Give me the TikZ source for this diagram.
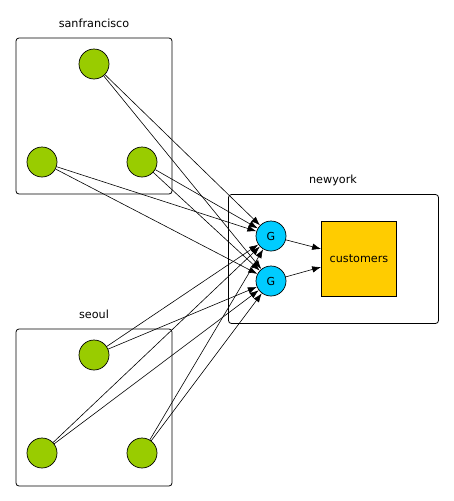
\documentclass[tikz,border=0pt]{standalone}
\usepackage{fontspec}
\setmainfont{DejaVu Sans}
\usetikzlibrary{arrows.meta}
\definecolor{grn}{HTML}{99CC00}
\definecolor{cyn}{HTML}{00CCFF}
\definecolor{ylw}{HTML}{FFCC00}
\begin{document}
\begin{tikzpicture}[x=1pt,y=-1pt,
  grp/.style={draw=black,rounded corners=3pt,line width=0.8pt},
  host/.style={circle,draw=black,fill=grn,minimum size=30pt,inner sep=0pt,line width=0.7pt},
  gw/.style={circle,draw=black,fill=cyn,minimum size=30pt,inner sep=0pt,line width=0.7pt,font=\fontsize{11}{13}\selectfont},
  lbl/.style={font=\fontsize{11.2}{13}\selectfont},
  link/.style={draw=black,line width=0.6pt,-{Latex[length=9pt,width=6.5pt]}}]
\useasboundingbox (0,0) rectangle (453,501);
% groups
\draw[grp] (16,38) rectangle (172,194);
\node[lbl] (lsf) at (94,23) {sanfrancisco};
\draw[grp] (16,329) rectangle (172,486);
\node[lbl] (lse) at (94,314) {seoul};
\draw[grp] (228.5,194.5) rectangle (438.5,323.5);
\node[lbl] (lny) at (333,180) {newyork};
% hosts
\node[host] (s1) at (94,64) {};
\node[host] (s2) at (42,162) {};
\node[host] (s3) at (142,162) {};
\node[host] (k1) at (94,355) {};
\node[host] (k2) at (42,453) {};
\node[host] (k3) at (142,453) {};
% gateways
\node[gw] (g1) at (271,236) {G};
\node[gw] (g2) at (271,281) {G};
% customers
\node[draw=black,fill=ylw,minimum width=75pt,minimum height=75pt,inner sep=0pt,line width=0.7pt,lbl] (cu) at (359,259) {customers};
% links
\foreach \h in {s1,s2,s3,k1,k2,k3}{
  \draw[link] (\h) -- (g1);
  \draw[link] (\h) -- (g2);
}
\draw[link] (g1) -- (cu.west |- 0,249);
\draw[link] (g2) -- (cu.west |- 0,267);
\end{tikzpicture}
\end{document}
